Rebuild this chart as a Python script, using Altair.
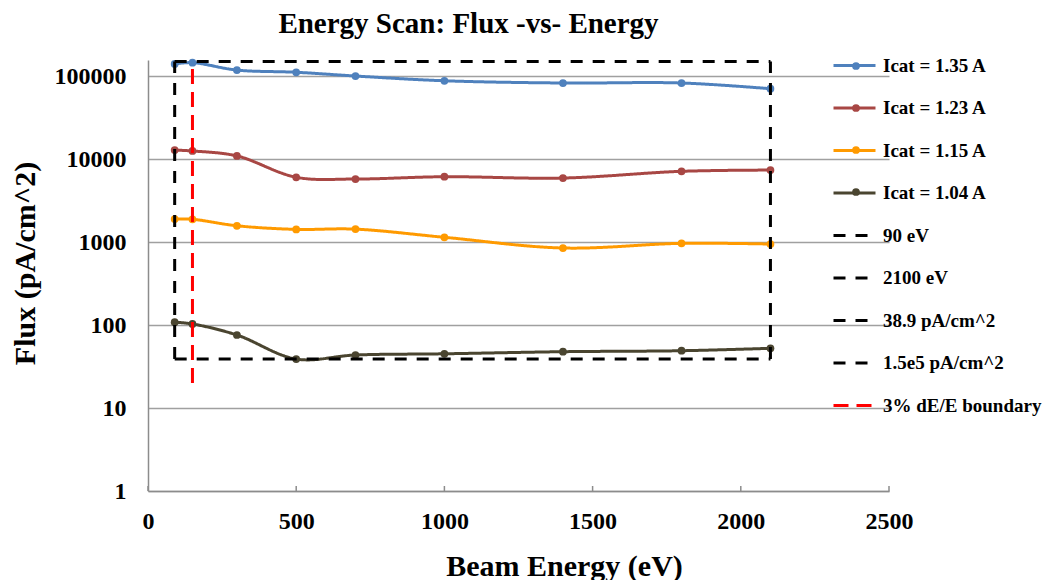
import altair as alt
import pandas as pd

# ---- data ----
energy = [90, 150, 300, 500, 700, 1000, 1400, 1800, 2100]
flux_135 = [140000, 145000, 118000, 111000, 100000, 87700, 82400, 82400, 70300]
flux_123 = [12800, 12500, 10900, 6030, 5740, 6120, 5900, 7110, 7360]
flux_115 = [1890, 1880, 1570, 1420, 1430, 1140, 847, 964, 946]
flux_104 = [108, 103, 75.8, 38.9, 43.5, 45, 47.7, 49, 52.4]

series_names = ["Icat = 1.35 A", "Icat = 1.23 A", "Icat = 1.15 A", "Icat = 1.04 A"]
ref_names = ["90 eV", "2100 eV", "38.9 pA/cm^2", "1.5e5 pA/cm^2", "3% dE/E boundary"]
ref_x = [90, 2100, 90, 90, 150]
ref_x2 = [90, 2100, 2100, 2100, 150]
ref_y = [38.9, 38.9, 38.9, 150000, 20]
ref_y2 = [150000, 150000, 38.9, 150000, 150000]

y_ticks = [1, 10, 100, 1000, 10000, 100000]
x_ticks = [0, 500, 1000, 1500, 2000, 2500]

all_names = series_names + ref_names
colors = ["#4F81BD", "#A84744", "#FF9A00", "#4A4530",
          "#000000", "#000000", "#000000", "#000000", "#FF0000"]
dashes = [[1, 0]] * 4 + [[12, 10]] * 4 + [[15, 8]]

rows = []
for name, vals in zip(series_names, [flux_135, flux_123, flux_115, flux_104]):
    for e, v in zip(energy, vals):
        rows.append({"energy": e, "flux": v, "series": name, "dot": name})
df = pd.DataFrame(rows)

ref_df = pd.DataFrame({"series": ref_names, "x": ref_x, "x2": ref_x2,
                       "y": ref_y, "y2": ref_y2})

tick_df = pd.DataFrame({"x": x_ticks, "y": [1] * len(x_ticks),
                        "y2": [1.149] * len(x_ticks)})

FONT = "Liberation Serif"

color_scale = alt.Scale(domain=all_names, range=colors)
dash_scale = alt.Scale(domain=all_names, range=dashes)
dot_scale = alt.Scale(domain=series_names, range=colors[:4])

x_scale = alt.Scale(domain=[0, 2500], nice=False)
y_scale = alt.Scale(type="log", domain=[1, 156000], nice=False)

legend = alt.Legend(
    title=None, orient="none", legendX=684, legendY=-17,
    symbolType="stroke", symbolSize=1764, symbolStrokeWidth=3,
    labelFont=FONT, labelFontSize=19, labelFontWeight="bold", labelColor="black",
    labelOffset=6, rowPadding=9.5, labelLimit=300,
)

dot_legend = alt.Legend(
    title=None, orient="none", legendX=704, legendY=2,
    symbolType="circle", symbolSize=60, symbolStrokeWidth=0,
    labelExpr="''", labelFontSize=1, rowPadding=34,
)

base = alt.Chart(df)

lines = base.mark_line(strokeWidth=3, interpolate="catmull-rom").encode(
    x=alt.X("energy:Q", scale=x_scale,
            axis=alt.Axis(title="Beam Energy (eV)", values=x_ticks, format="d",
                          grid=False, ticks=False, labelFlush=False,
                          labelPadding=18, titleX=416, titleY=75,
                          titleBaseline="middle", domainColor="#8C8C8C",
                          domainWidth=1.5)),
    y=alt.Y("flux:Q", scale=y_scale,
            axis=alt.Axis(title="Flux (pA/cm^2)", values=y_ticks, format="d",
                          grid=True, gridColor="#A0A0A0", gridWidth=1.5,
                          ticks=False, labelPadding=22, titleX=-123, titleY=203,
                          titleBaseline="middle", titleAngle=270,
                          domainColor="#8C8C8C", domainWidth=1.5)),
    color=alt.Color("series:N", scale=color_scale, legend=legend),
    strokeDash=alt.StrokeDash("series:N", scale=dash_scale, legend=legend),
)

points = base.mark_point(filled=True, size=60, opacity=1, strokeWidth=0).encode(
    x="energy:Q", y="flux:Q",
    fill=alt.Fill("dot:N", scale=dot_scale, legend=dot_legend),
)

ticks = alt.Chart(tick_df).mark_rule(color="#8C8C8C", strokeWidth=1.5).encode(
    x=alt.X("x:Q", scale=x_scale),
    y=alt.Y("y:Q", scale=y_scale),
    y2="y2:Q",
)

refs = alt.Chart(ref_df).mark_rule(strokeWidth=3).encode(
    x=alt.X("x:Q", scale=x_scale),
    x2="x2:Q",
    y=alt.Y("y:Q", scale=y_scale),
    y2="y2:Q",
    color=alt.Color("series:N", scale=color_scale, legend=legend),
    strokeDash=alt.StrokeDash("series:N", scale=dash_scale, legend=legend),
)

chart = alt.layer(lines, points, ticks, refs).properties(
    width=741, height=431,
    autosize=alt.AutoSizeParams(type="none"),
    padding={"left": 140, "top": 52, "right": 153, "bottom": 89},
    title=alt.TitleParams("Energy Scan: Flux -vs- Energy", font=FONT, fontSize=29,
                          fontWeight="bold", color="black", anchor="middle",
                          dx=-50, offset=4),
).configure_axis(
    labelFont=FONT, labelFontSize=24, labelFontWeight="bold", labelColor="black",
    titleFont=FONT, titleFontSize=30, titleFontWeight="bold", titleColor="black",
).configure_view(stroke=None)

chart.save("out.html", embed_options={"renderer": "svg", "actions": False})
